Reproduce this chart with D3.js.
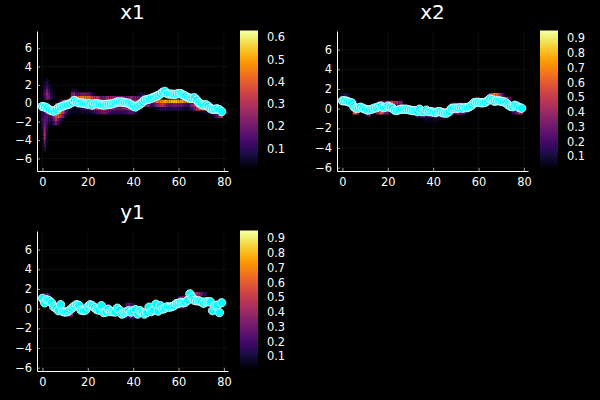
<!DOCTYPE html>
<html>
<head>
<meta charset="utf-8">
<script src="https://cdn.jsdelivr.net/npm/d3@7"></script>
<style>
  html, body { margin: 0; padding: 0; background: #000; }
  text { font-family: "DejaVu Sans", sans-serif; fill: #fff; }
</style>
</head>
<body>
<svg id="chart" width="600" height="400"></svg>
<script>
const xTicks = [0, 20, 40, 60, 80];
const yTicks = [-6, -4, -2, 0, 2, 4, 6];
const cbarTicks1 = [0.1, 0.2, 0.3, 0.4, 0.5, 0.6];
const cbarTicks2 = [0.1, 0.2, 0.3, 0.4, 0.5, 0.6, 0.7, 0.8, 0.9];

const x1Series = [-0.35,-0.4,-0.5,-0.7,-0.8,-0.85,-0.75,-0.5,-0.4,-0.3,-0.2,-0.15,-0.05,0.1,0.3,0.15,0.05,0.05,0,-0.05,
  -0.1,-0.05,-0.2,-0.05,-0.05,-0.1,-0.15,-0.2,-0.15,-0.1,-0.1,-0.05,0.05,0.15,0.15,0.15,0.1,0.05,0,-0.15,
  -0.3,-0.4,-0.25,-0.1,0.1,0.35,0.4,0.45,0.55,0.65,0.75,0.85,1,1.2,1.3,1.05,1,1,0.95,1,
  1.05,1.05,0.9,0.8,0.65,0.55,0.55,0.6,0.35,0.05,-0.1,-0.2,-0.15,-0.3,-0.55,-0.65,-0.65,-0.6,-0.7,-0.9];
const x2Series = [0.8,0.8,0.75,0.65,0.6,0.2,0.05,0.05,0.15,0.05,-0.05,-0.15,-0.1,-0.05,0.05,0.1,0.2,0.25,0.1,0.15,
  0.25,0.15,0.05,-0.15,-0.2,-0.1,-0.05,-0.05,-0.05,-0.1,-0.15,-0.2,-0.2,-0.3,-0.05,-0.3,-0.3,-0.15,-0.3,-0.3,
  -0.35,-0.4,-0.3,-0.3,-0.4,-0.45,-0.45,-0.3,0,0.05,0.05,0.05,0.1,0.05,0.1,0.1,0.2,0.35,0.6,0.65,
  0.65,0.6,0.6,0.65,0.8,1,0.9,0.75,0.8,0.8,0.75,0.7,0.6,0.4,0.25,0.2,0.35,0.25,0.1,0.05];
const y1Series = [1.05,0.6,0.9,0.8,0.6,0.2,0.05,-0.2,0.4,-0.3,-0.35,-0.3,-0.15,0.05,0.25,0.4,0.35,-0.15,-0.2,-0.15,
  0.2,0.4,0.3,0.1,-0.1,-0.15,0.3,-0.4,-0.35,-0.05,-0.3,-0.3,-0.35,0.05,-0.15,-0.55,-0.45,-0.3,-0.2,-0.35,
  -0.2,-0.1,-0.55,-0.2,-0.4,-0.55,-0.4,0.15,-0.3,-0.15,0.45,-0.25,0.3,-0.05,0.05,0.2,0.15,0.2,0.3,0.5,
  0.55,0.65,0.6,0.65,0.85,1.5,1.15,0.85,0.8,0.8,0.7,0.55,0.7,0.7,0.7,-0.2,0.3,0.35,-0.4,0.6];

// heat rows: [y centre, first column, values...]
const x1Heat = [
  [2.6,1,.02,.04,.02],
  [2.2,1,.04,.08,.04],
  [1.8,1,.06,.12,.07,.03],
  [1.4,0,.03,.1,.2,.12,.05],
  [1.4,13,.05,.08,.05],
  [1.0,0,.05,.14,.26,.18,.08,.03],
  [1.0,13,.2,.24,.16,.16,.18,.2,.2,.18,.15,.08,.03],
  [1.0,42,.03,.06,.08,.05],
  [0.6,1,.12,.22,.2,.1,.04],
  [0.6,13,.32,.38,.42,.42,.42,.45,.45,.42,.38,.34,.3,.3,.25,.2,.2,.22,.25,.25,.25,.2,.2,.2,.2,.18,.18,.2,.25,.2],
  [0.6,41,.22,.18,.15,.08],
  [0.6,62,.25,.2,.15,.15,.12,.12,.1,.05],
  [0.2,8,.1,.2,.3,.35,.4,.45,.5,.5,.55,.55,.55,.55,.5,.45,.5,.55,.5,.45,.4,.4,.45,.5,.55,.55,.55,.5,.5,.5,.5,.45,.4,.35,.3,.3,.25,.3,.25],
  [0.2,48,.3,.36,.4,.42,.45,.48,.5,.46,.5,.52,.52,.54,.5,.48,.46,.42,.4,.35,.3,.25,.2,.15,.1,.05],
  [-0.2,6,.2,.3,.4,.45,.5,.3,.2,.15,.15,.15,.2,.2,.3,.35,.45,.4,.4,.4,.45,.45,.45,.4,.45,.5,.45,.45,.4,.45,.45,.45,.45,.5,.45,.4,.35,.3,.3,.3,.25,.25,.25,.2],
  [-0.2,48,.1,.15,.2,.25,.3,.35,.25,.2,.18,.18,.2,.2,.2,.18,.15,.15,.12,.15,.25,.3,.35,.35,.3,.25,.2,.15],
  [-0.6,0,.08,.12,.12,.15,.2,.3,.45,.55,.52,.38,.25,.15,.05,.03,.03,.03,.05,.08,.1,.12,.15,.18,.25,.25,.28,.3,.32,.35,.3,.28,.25,.2,.2,.2,.18,.2,.22,.25,.3,.3,.25,.2,.1,.05],
  [-0.6,50,.04,.05,.08,.1,.1,.08,.08,.08,.08,.1,.1,.08,.05,.05,.05,.08,.12,.2,.3,.35,.4,.42,.45,.45,.4,.35,.3,.3,.25,.2],
  [-1.0,0,.1,.15,.15,.12,.25,.32,.45,.55,.45,.32,.2,.1,.05,.03,.03,.03,.03,.04,.05,.05,.05,.05,.07,.1,.12,.15,.18,.2,.18,.15,.12,.1,.1,.1,.1,.1,.1,.12,.15,.15,.15,.1,.05],
  [-1.0,70,.03,.04,.05,.08,.12,.2,.3,.35,.38,.4],
  [-1.4,0,.1,.14,.16,.12,.14,.25,.36,.4,.32,.2,.08],
  [-1.4,76,.1,.15,.25,.3],
  [-1.8,0,.12,.18,.16,.1,.12,.18,.3,.22,.12,.05],
  [-2.2,0,.1,.2,.12,.06,.05,.12,.2,.12,.03],
  [-2.6,0,.08,.24,.1,.03],
  [-3.0,0,.06,.27,.08],
  [-3.4,0,.05,.3,.06],
  [-3.8,0,.04,.27,.05],
  [-4.2,0,.03,.2,.04],
  [-4.6,1,.14],
  [-5.0,1,.08]
];
const x2Heat = [
  [1.4,0,.08,.15,.1,.06],
  [0.6,5,.3,.2],
  [-0.4,5,.55,.6,.3],
  [-0.6,11,.2,.3],
  [0.6,16,.3,.45,.35,.25,.4,.5,.55,.45,.4,.3,.35],
  [-0.4,15,.3,.4,.6,.45,.3,.3],
  [-0.8,33,.1,.15,.12,.18,.15,.15,.12,.1,.12,.15,.15,.12,.15,.1],
  [-1.2,36,.03,.05,.05,.04,.05,.06,.05,.03],
  [0.4,48,.3,.4,.4,.4,.35,.35,.3],
  [-0.4,48,.2,.25,.3,.35,.3,.25,.2],
  [1.4,65,.35,.55,.75,.65,.5,.35,.2],
  [1.0,71,.5,.45,.35,.25],
  [-0.4,75,.15,.2,.3,.4,.45]
];
const y1Heat = [
  [1.4,1,.2,.3,.2],
  [0.2,15,.4,.6,.7,.5,.3],
  [-0.6,10,.2,.35,.5,.3],
  [-0.8,35,.2,.3,.25,.2,.3,.25,.2],
  [0.4,37,.2,.3,.2,.15],
  [1.5,66,.3,.5,.45,.35,.3,.2,.15],
  [1.1,60,.15,.2,.3,.25,.2],
  [0.2,60,.35,.3,.25,.2]
];

// x extent, the y extents of the two panel shapes, cbar limits
const xDomain = [-2.4, 81.8];
const yDomainWide = [-7.36, 7.86];
const yDomainNarrow = [-6.34, 7.9];
const cbarLimit1 = [0, 0.627];
const cbarLimit2 = [0, 0.948];

const panelW = 191;
const panelH = 140;
const svg = d3.select("#chart");
svg.append("rect").attr("width", 600).attr("height", 400).attr("fill", "#000");

const drawPanel = ({ left, top, title, series, heat, yDomain, cbarLimit, cbarTicks }) => {
  const g = svg.append("g").attr("transform", `translate(${left},${top})`);
  const x = d3.scaleLinear().domain(xDomain).range([0, panelW]);
  const y = d3.scaleLinear().domain(yDomain).range([panelH, 0]);
  const color = d3.scaleSequential(d3.interpolateInferno).domain(cbarLimit);

  g.append("text")
    .attr("x", panelW / 2)
    .attr("y", -12)
    .attr("text-anchor", "middle")
    .attr("font-size", 20)
    .text(title);

  // grid
  g.selectAll("line.gx")
    .data(xTicks)
    .join("line")
    .attr("class", "gx")
    .attr("x1", (d) => x(d))
    .attr("x2", (d) => x(d))
    .attr("y1", 0)
    .attr("y2", panelH)
    .attr("stroke", "#fff")
    .attr("stroke-opacity", 0.1)
    .attr("stroke-width", 0.5);
  g.selectAll("line.gy")
    .data(yTicks)
    .join("line")
    .attr("class", "gy")
    .attr("x1", 0)
    .attr("x2", panelW)
    .attr("y1", (d) => y(d))
    .attr("y2", (d) => y(d))
    .attr("stroke", "#fff")
    .attr("stroke-opacity", 0.1)
    .attr("stroke-width", 0.5);

  // heat cells
  const cells = heat.flatMap(([yc, first, ...vals]) =>
    vals.map((v, i) => ({ col: first + i, yc, v }))
  );
  g.selectAll("rect.cell")
    .data(cells)
    .join("rect")
    .attr("class", "cell")
    .attr("x", (d) => x(d.col - 0.5))
    .attr("width", (d) => x(d.col + 0.5) - x(d.col - 0.5))
    .attr("y", (d) => y(d.yc + 0.2))
    .attr("height", (d) => y(d.yc - 0.2) - y(d.yc + 0.2))
    .attr("fill", (d) => color(d.v));

  // axes
  const axL = g.append("g").call(
    d3.axisLeft(y).tickValues(yTicks).tickSizeInner(-3).tickSizeOuter(0).tickPadding(5)
  );
  const axB = g.append("g").attr("transform", `translate(0,${panelH})`).call(
    d3.axisBottom(x).tickValues(xTicks).tickSizeInner(-3).tickSizeOuter(0).tickPadding(7)
  );
  [axL, axB].forEach((ax) => {
    ax.selectAll("path").attr("stroke", "#fff").attr("stroke-width", 1);
    ax.selectAll("line").attr("stroke", "#fff").attr("stroke-width", 0.6);
    ax.selectAll("text").attr("font-size", 11.4).attr("font-family", '"DejaVu Sans", sans-serif').attr("fill", "#fff");
  });

  // points
  g.selectAll("circle.pt")
    .data(series)
    .join("circle")
    .attr("class", "pt")
    .attr("cx", (d, i) => x(i))
    .attr("cy", (d) => y(d))
    .attr("r", 4.2)
    .attr("fill", "#00ffff")
    .attr("stroke", "#fff")
    .attr("stroke-width", 0.8);

  // colorbar
  const cy = d3.scaleLinear().domain(cbarLimit).range([panelH, 0]);
  const cb = g.append("g").attr("transform", `translate(${panelW + 12},0)`);
  const steps = d3.range(cbarLimit[0], cbarLimit[1], (cbarLimit[1] - cbarLimit[0]) / 140);
  cb.selectAll("rect")
    .data(steps)
    .join("rect")
    .attr("x", 0)
    .attr("width", 18)
    .attr("y", (d) => cy(d) - 1.5)
    .attr("height", 1.5)
    .attr("fill", (d) => color(d));
  const axC = cb.append("g").attr("transform", "translate(18,0)").call(
    d3.axisRight(cy).tickValues(cbarTicks).tickSize(0).tickPadding(9).tickFormat(d3.format(".1f"))
  );
  axC.select("path").remove();
  axC.selectAll("text").attr("font-size", 11.4).attr("font-family", '"DejaVu Sans", sans-serif').attr("fill", "#fff");
};

drawPanel({ left: 37, top: 31, title: "x1", series: x1Series, heat: x1Heat, yDomain: yDomainWide, cbarLimit: cbarLimit1, cbarTicks: cbarTicks1 });
drawPanel({ left: 337, top: 31, title: "x2", series: x2Series, heat: x2Heat, yDomain: yDomainNarrow, cbarLimit: cbarLimit2, cbarTicks: cbarTicks2 });
drawPanel({ left: 37, top: 231, title: "y1", series: y1Series, heat: y1Heat, yDomain: yDomainNarrow, cbarLimit: cbarLimit2, cbarTicks: cbarTicks2 });
</script>
</body>
</html>
